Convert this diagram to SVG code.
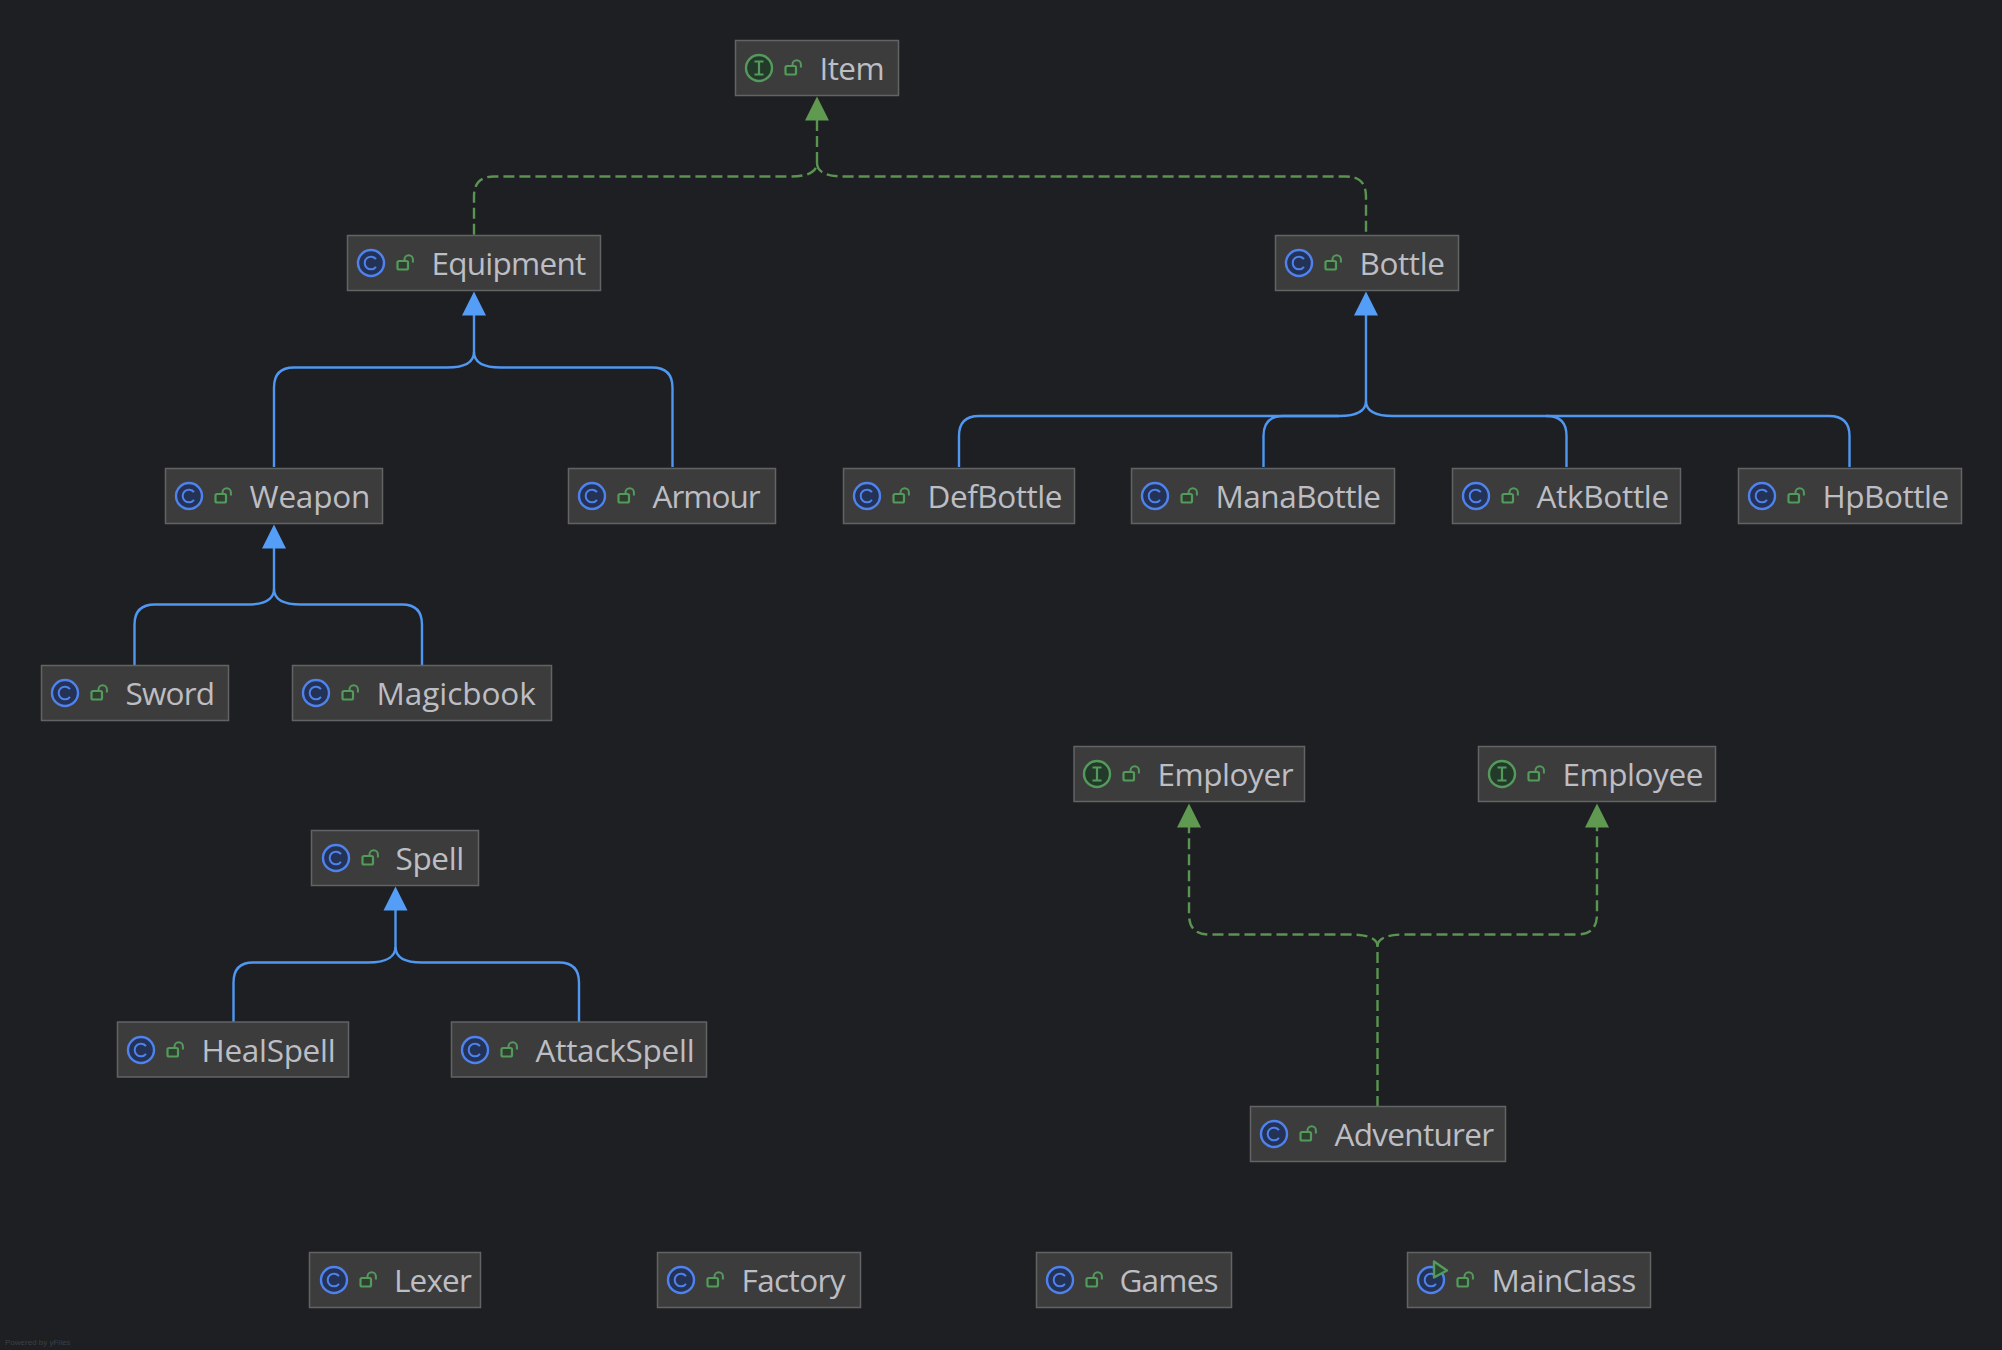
<svg xmlns="http://www.w3.org/2000/svg" xmlns:xlink="http://www.w3.org/1999/xlink" width="2002" height="1350" viewBox="0 0 2002 1350">
<style>
.box{fill:#3c3c3c;stroke:#626364;stroke-width:1.5}
.t{font-family:"Open Sans","Noto Sans",sans-serif;font-size:31.5px;letter-spacing:-0.6px;fill:#bcbec4}
.b{fill:none;stroke:#4f97f0;stroke-width:2.4}
.g{fill:none;stroke:#5a9450;stroke-width:2.4;stroke-dasharray:11 5}
.ha{fill:#559ef8}.ga{fill:#5f9a50}
.cc{fill:#233255;stroke:#4f82ec;stroke-width:2.4}
.cg{fill:none;stroke:#4f82ec;stroke-width:2}
.ic{fill:#233a2b;stroke:#549a5c;stroke-width:2.4}
.ig{fill:none;stroke:#549a5c;stroke-width:2.2}
.lk{fill:#2f3f2f;stroke:#549a5c;stroke-width:2.2;stroke-linejoin:round}
.ls{fill:none;stroke:#549a5c;stroke-width:2}
.p{font-family:"Liberation Sans",sans-serif;font-size:8px;fill:#3d4043}
</style>
<defs>
<g id="lock"><rect x="-11.5" y="-2" width="10.5" height="8.5" rx="1.5" class="lk"/><path class="ls" d="M-4.500,-2V-3.500A4.200,4.200 0 0 1 3.900,-3.500V-0.500"/></g>
<g id="cI"><circle r="13" class="cc"/><path class="cg" d="M5,-3.800A6.300,6.300 0 1 0 5,3.800"/><use href="#lock" x="38" y="0"/></g>
<g id="iI"><circle r="13" class="ic"/><path class="ig" d="M-4.500,-6.500H4.500M-4.500,6.500H4.500M0,-6.500V6.500"/><use href="#lock" x="38" y="0"/></g>
<g id="mI"><circle r="13" class="cc"/><path class="cg" d="M5,-3.800A6.300,6.300 0 1 0 5,3.800"/><path d="M3,-18.500L16,-9.500L3,-2.500Z" fill="#2a4a30" stroke="#549a5c" stroke-width="2.400" stroke-linejoin="round"/><use href="#lock" x="38" y="0"/></g>
</defs>
<rect width="2002" height="1350" fill="#1e1f22"/>
<g id="connectors">
<path class="g" d="M817,120V163C817,170 811,176.500 790,176.500H494Q474,176.500 474,196.500V235"/>
<path class="g" d="M817,163C817,170 823,176.500 844,176.500H1346Q1366,176.500 1366,196.500V235"/>
<path class="b" d="M474,315V352C474,360 468,367.500 447,367.500H294Q274,367.500 274,387.500V467"/>
<path class="b" d="M474,352C474,360 480,367.500 501,367.500H652Q672.500,367.500 672.500,387.500V467"/>
<path class="b" d="M1366,315V401C1366,409 1360,416 1339,416H979Q959,416 959,436V467"/>
<path class="b" d="M1339,416H1283Q1263.500,416 1263.500,436V467"/>
<path class="b" d="M1366,401C1366,409 1372,416 1393,416H1547Q1566.500,416 1566.500,436V467"/>
<path class="b" d="M1546,416H1829Q1849.500,416 1849.500,436V467"/>
<path class="b" d="M274,548V589C274,597 268,604.500 247,604.500H155Q134.500,604.500 134.500,624.500V665"/>
<path class="b" d="M274,589C274,597 280,604.500 301,604.500H402Q422,604.500 422,624.500V665"/>
<path class="b" d="M395.500,910V947C395.500,955 389,962.500 368,962.500H253Q233.500,962.500 233.500,982.500V1022"/>
<path class="b" d="M395.500,947C395.500,955 401,962.500 422,962.500H559Q579,962.500 579,982.500V1022"/>
<path class="g" d="M1377.500,1107V946C1377.500,940 1371,934.500 1350,934.500H1209Q1189,934.500 1189,914.500V827"/>
<path class="g" d="M1377.500,946C1377.500,940 1384,934.500 1404,934.500H1577Q1597,934.500 1597,914.500V827"/>
<g class="ga"><path d="M817,96.500L829,120.500H805Z"/><path d="M1189,803.500L1201,827.500H1177Z"/><path d="M1597,803.500L1609,827.500H1585Z"/></g>
<g class="ha"><path d="M474,291.500L486,315.500H462Z"/><path d="M1366,291.500L1378,315.500H1354Z"/><path d="M274,524.500L286,548.500H262Z"/><path d="M395.500,886.500L407.500,910.500H383.500Z"/></g>
</g>
<g id="Item"><rect class="box" x="735.5" y="40.5" width="163" height="55"/><use href="#iI" x="759" y="68"/><text class="t" x="819.500" y="80">Item</text></g>
<g id="Equipment"><rect class="box" x="347.5" y="235.5" width="253" height="55"/><use href="#cI" x="371" y="263"/><text class="t" x="431.500" y="275" style="letter-spacing:-0.75px">Equipment</text></g>
<g id="Bottle"><rect class="box" x="1275.5" y="235.5" width="183" height="55"/><use href="#cI" x="1299" y="263"/><text class="t" x="1359.500" y="275" style="letter-spacing:-0.4px">Bottle</text></g>
<g id="Weapon"><rect class="box" x="165.5" y="468.5" width="217" height="55"/><use href="#cI" x="189" y="496"/><text class="t" x="249.500" y="508" style="letter-spacing:-0.2px">Weapon</text></g>
<g id="Armour"><rect class="box" x="568.5" y="468.5" width="207" height="55"/><use href="#cI" x="592" y="496"/><text class="t" x="652.500" y="508" style="letter-spacing:-1px">Armour</text></g>
<g id="DefBottle"><rect class="box" x="843.5" y="468.5" width="231" height="55"/><use href="#cI" x="867" y="496"/><text class="t" x="927.500" y="508" style="letter-spacing:-0.45px">DefBottle</text></g>
<g id="ManaBottle"><rect class="box" x="1131.5" y="468.5" width="263" height="55"/><use href="#cI" x="1155" y="496"/><text class="t" x="1215.500" y="508" style="letter-spacing:-0.5px">ManaBottle</text></g>
<g id="AtkBottle"><rect class="box" x="1452.5" y="468.5" width="228" height="55"/><use href="#cI" x="1476" y="496"/><text class="t" x="1536.500" y="508" style="letter-spacing:-0.3px">AtkBottle</text></g>
<g id="HpBottle"><rect class="box" x="1738.5" y="468.5" width="223" height="55"/><use href="#cI" x="1762" y="496"/><text class="t" x="1822.500" y="508" style="letter-spacing:-0.45px">HpBottle</text></g>
<g id="Sword"><rect class="box" x="41.5" y="665.5" width="187" height="55"/><use href="#cI" x="65" y="693"/><text class="t" x="125.500" y="705" style="letter-spacing:-0.8px">Sword</text></g>
<g id="Magicbook"><rect class="box" x="292.5" y="665.5" width="259" height="55"/><use href="#cI" x="316" y="693"/><text class="t" x="376.500" y="705" style="letter-spacing:-0.05px">Magicbook</text></g>
<g id="Employer"><rect class="box" x="1074" y="746.5" width="230.500" height="55"/><use href="#iI" x="1097" y="774"/><text class="t" x="1157.500" y="786" style="letter-spacing:-0.45px">Employer</text></g>
<g id="Employee"><rect class="box" x="1478.5" y="746.5" width="237" height="55"/><use href="#iI" x="1502" y="774"/><text class="t" x="1562.500" y="786" style="letter-spacing:-0.45px">Employee</text></g>
<g id="Spell"><rect class="box" x="311.5" y="830.5" width="167" height="55"/><use href="#cI" x="336" y="858"/><text class="t" x="395.500" y="870" style="letter-spacing:-0.35px">Spell</text></g>
<g id="HealSpell"><rect class="box" x="117.5" y="1022" width="231" height="55"/><use href="#cI" x="141" y="1050"/><text class="t" x="201.500" y="1062" style="letter-spacing:-0.3px">HealSpell</text></g>
<g id="AttackSpell"><rect class="box" x="451.5" y="1022" width="255" height="55"/><use href="#cI" x="475" y="1050"/><text class="t" x="535.500" y="1062" style="letter-spacing:-0.25px">AttackSpell</text></g>
<g id="Adventurer"><rect class="box" x="1250.5" y="1106.5" width="255" height="55"/><use href="#cI" x="1274" y="1134"/><text class="t" x="1334.500" y="1146" style="letter-spacing:-0.7px">Adventurer</text></g>
<g id="Lexer"><rect class="box" x="309.5" y="1252.5" width="171" height="55"/><use href="#cI" x="334" y="1280"/><text class="t" x="394" y="1292" style="letter-spacing:-0.85px">Lexer</text></g>
<g id="Factory"><rect class="box" x="657.5" y="1252.5" width="203" height="55"/><use href="#cI" x="681" y="1280"/><text class="t" x="741.500" y="1292">Factory</text></g>
<g id="Games"><rect class="box" x="1036.5" y="1252.5" width="195" height="55"/><use href="#cI" x="1060" y="1280"/><text class="t" x="1119.500" y="1292" style="letter-spacing:-0.8px">Games</text></g>
<g id="MainClass"><rect class="box" x="1407.5" y="1252.5" width="243" height="55"/><use href="#mI" x="1431" y="1280"/><text class="t" x="1491.500" y="1292" style="letter-spacing:-0.45px">MainClass</text></g>
<text class="p" x="5" y="1345">Powered by yFiles</text>
</svg>
